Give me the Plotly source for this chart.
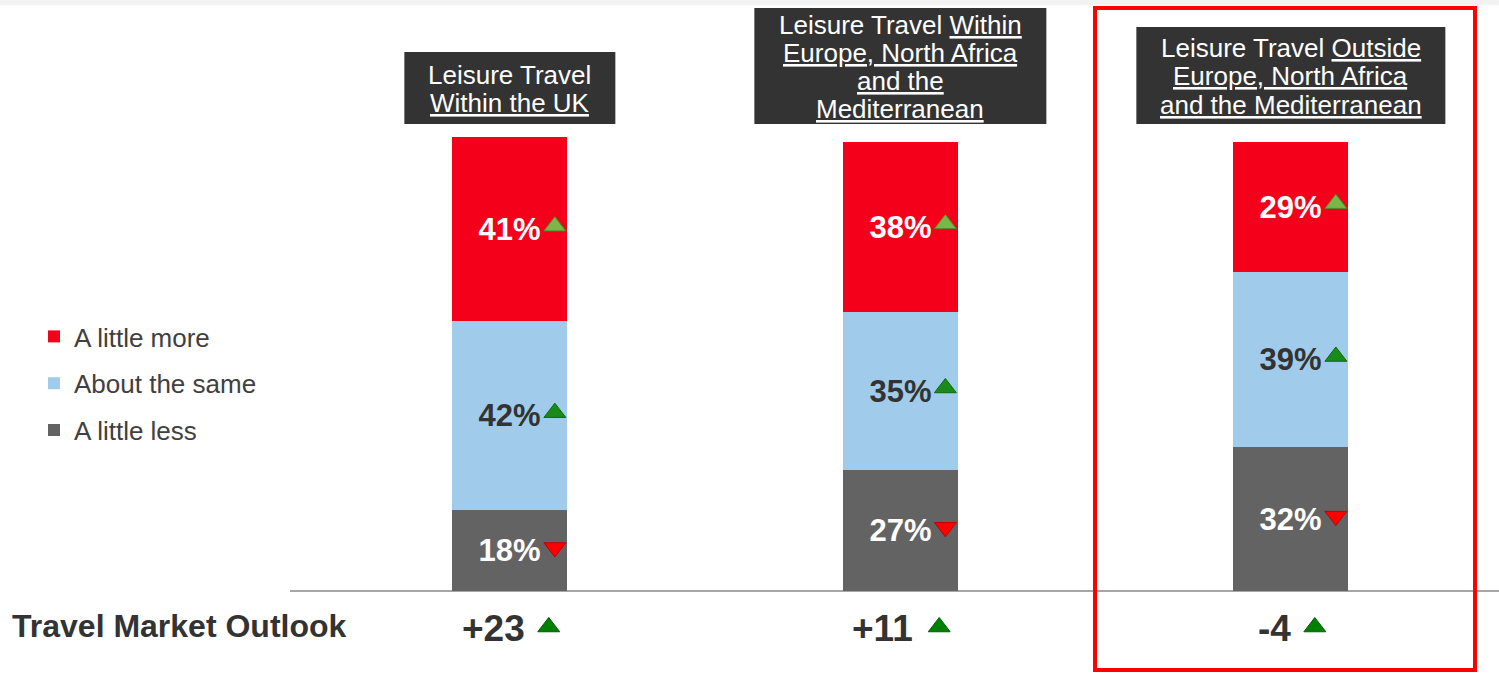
import plotly.graph_objects as go

# ---- data -------------------------------------------------------------
categories = [0, 1, 2]
header_lines = [
    ["Leisure Travel", "<u>Within the UK</u>"],
    ["Leisure Travel <u>Within</u>", "<u>Europe, North Africa</u>", "<u>and the</u>", "<u>Mediterranean</u>"],
    ["Leisure Travel <u>Outside</u>", "<u>Europe, North Africa</u>", "<u>and the Mediterranean</u>"],
]
series_names = ["A little less", "About the same", "A little more"]
less_vals = [18, 27, 32]
same_vals = [42, 35, 39]
more_vals = [41, 38, 29]
less_trend = ["down", "down", "down"]
same_trend = ["up", "up", "up"]
more_trend = ["up", "up", "up"]
outlook_label = "Travel Market Outlook"
outlook_vals = ["+23", "+11", "-4"]
outlook_trend = ["up", "up", "up"]

# ---- style ------------------------------------------------------------
W, H = 1499, 674
FONT = "Arial, Liberation Sans, sans-serif"
RED, BLUE, GREY = "#f5001a", "#a1cbea", "#636363"
DARK = "#333333"
PLOT_LEFT, BASE_PX, TOP_PX = 290, 591, 137
YMAX = 101
XR = [-0.563, 2.533]
PX = (W - PLOT_LEFT) / (XR[1] - XR[0])   # pixels per category unit
PY = (BASE_PX - TOP_PX) / YMAX           # pixels per percent
YMIN = -(H - BASE_PX) / PY
BAR_W = 115 / PX

box_widths = [211, 292, 309]
box_top_px = [52, 8, 27]
box_bottom_px = 124
LINE_GAP = 28


def py(px):
    return 1 - px / H


def ydata(px):
    return (BASE_PX - px) / PY


fig = go.Figure()

segments = [
    (series_names[0], less_vals, less_trend, GREY, "white", 3),
    (series_names[1], same_vals, same_trend, BLUE, DARK, 2),
    (series_names[2], more_vals, more_trend, RED, "white", 1),
]
for name, vals, _, color, tcolor, rank in segments:
    fig.add_trace(go.Bar(
        x=categories, y=vals, name=name, width=BAR_W,
        marker=dict(color=color, line=dict(width=0)),
        text=[f"{v}%" for v in vals], textposition="inside",
        insidetextanchor="middle", textangle=0,
        textfont=dict(family=FONT, size=31, color=tcolor, weight="bold"),
        legendgroup=name, legendrank=rank, hoverinfo="skip",
    ))

# trend arrows next to the segment labels
arrow_x, arrow_y, arrow_sym, arrow_fill, arrow_line = [], [], [], [], []
for k, (name, vals, trend, color, _, _) in enumerate(segments):
    for i in categories:
        base = sum(seg[1][i] for seg in segments[:k])
        arrow_x.append(i + 45 / PX)
        arrow_y.append(base + vals[i] / 2 + 3 / PY)
        up = trend[i] == "up"
        arrow_sym.append("triangle-up" if up else "triangle-down")
        if not up:
            arrow_fill.append("#ff0000")
            arrow_line.append("#c00000")
        elif color == RED:
            arrow_fill.append("#7ab648")
            arrow_line.append("#4d8a2a")
        else:
            arrow_fill.append("#1a8a1a")
            arrow_line.append("#0b6b0b")
fig.add_trace(go.Scatter(
    x=arrow_x, y=arrow_y, mode="markers", showlegend=False, hoverinfo="skip",
    marker=dict(symbol=arrow_sym, size=19, color=arrow_fill,
                line=dict(color=arrow_line, width=1)),
))

# outlook row
char_w = {"+": 0.584, "-": 0.333}
out_y_px = 628
ox, oy, osym = [], [], []
for i, s in enumerate(outlook_vals):
    tw = sum(char_w.get(c, 0.556) for c in s) * 37
    group = tw + 15 + 22
    fig.add_annotation(
        x=categories[i], xref="x", y=py(out_y_px), yref="paper",
        text=f"<b>{s}</b>", showarrow=False, xanchor="left", yanchor="middle",
        xshift=-group / 2, font=dict(family=FONT, size=37, color=DARK),
    )
    ox.append(categories[i] + (-group / 2 + tw + 26) / PX)
    oy.append(ydata(out_y_px - 1))
    osym.append("triangle-up" if outlook_trend[i] == "up" else "triangle-down")
fig.add_trace(go.Scatter(
    x=ox, y=oy, mode="markers", showlegend=False, hoverinfo="skip",
    marker=dict(symbol=osym, size=19, color="#008000", line=dict(color="#006000", width=1)),
))
fig.add_annotation(
    x=10 / W, xref="paper", y=py(626), yref="paper", text=f"<b>{outlook_label}</b>",
    showarrow=False, xanchor="left", yanchor="middle",
    font=dict(family=FONT, size=32, color=DARK),
)

# header boxes (one annotation per line keeps the tight line spacing)
for i, lines in enumerate(header_lines):
    half = box_widths[i] / 2 / PX
    fig.add_shape(type="rect", xref="x", yref="paper",
                  x0=categories[i] - half, x1=categories[i] + half,
                  y0=py(box_bottom_px), y1=py(box_top_px[i]),
                  fillcolor=DARK, line=dict(width=0), layer="above")
    mid = (box_top_px[i] + box_bottom_px) / 2 + 1
    first = mid - LINE_GAP * (len(lines) - 1) / 2
    for j, line in enumerate(lines):
        fig.add_annotation(
            x=categories[i], xref="x", y=py(first + j * LINE_GAP), yref="paper", text=line,
            showarrow=False, xanchor="center", yanchor="middle",
            font=dict(family=FONT, size=26, color="white"),
        )

# top strip and highlight frame
fig.add_shape(type="rect", xref="paper", yref="paper", x0=0, x1=1, y0=py(5), y1=1,
              fillcolor="#f2f2f2", line=dict(width=0))
fig.add_shape(type="rect", xref="paper", yref="paper", x0=1095 / W, x1=1475 / W,
              y0=py(670), y1=py(8), line=dict(color="#ff0000", width=4), layer="above")

fig.update_layout(
    width=W, height=H, barmode="stack", bargap=0,
    margin=dict(l=0, r=0, t=0, b=0, pad=0),
    paper_bgcolor="white", plot_bgcolor="white",
    font=dict(family=FONT, color=DARK),
    showlegend=True,
    legend=dict(x=34 / W, y=py(313), xanchor="left", yanchor="top",
                traceorder="grouped", tracegroupgap=10,
                font=dict(family=FONT, size=26, color="#404040"),
                bgcolor="rgba(0,0,0,0)", borderwidth=0),
)
fig.update_xaxes(domain=[PLOT_LEFT / W, 1], range=XR, showgrid=False, zeroline=False,
                 showticklabels=False, ticks="", showline=False, fixedrange=True)
fig.update_yaxes(domain=[0, py(TOP_PX)], range=[YMIN, YMAX], showgrid=False,
                 zeroline=True, zerolinecolor="#a6a6a6", zerolinewidth=2,
                 showticklabels=False, ticks="", fixedrange=True)

fig.write_html("out.html", config={"displayModeBar": False},
               post_script="document.body.style.margin='0';")
